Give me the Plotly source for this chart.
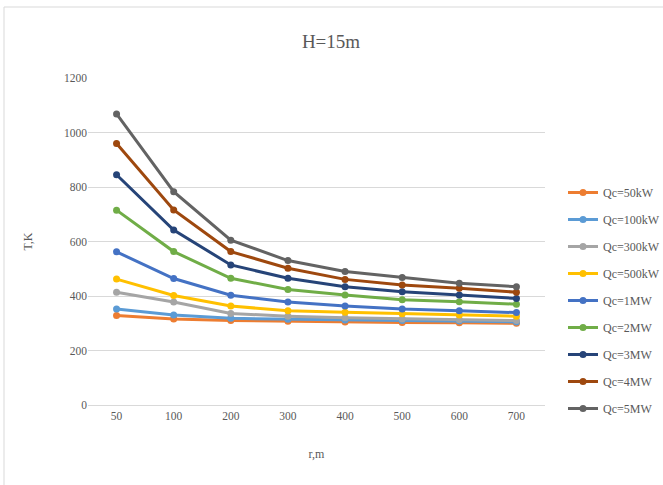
import plotly.graph_objects as go

categories = ["50", "100", "200", "300", "400", "500", "600", "700"]
series_names = ["Qc=50kW", "Qc=100kW", "Qc=300kW", "Qc=500kW", "Qc=1MW",
                "Qc=2MW", "Qc=3MW", "Qc=4MW", "Qc=5MW"]
q50k = [328, 316, 310, 307, 305, 303, 302, 300]
q100k = [352, 330, 318, 315, 312, 310, 308, 305]
q300k = [414, 378, 336, 326, 320, 316, 313, 310]
q500k = [462, 402, 363, 346, 340, 335, 330, 326]
q1m = [562, 464, 403, 378, 363, 352, 346, 339]
q2m = [715, 563, 465, 424, 404, 386, 379, 370]
q3m = [845, 642, 514, 465, 434, 416, 404, 391]
q4m = [960, 716, 563, 502, 461, 440, 428, 414]
q5m = [1068, 783, 605, 530, 490, 468, 447, 434]
series_values = [q50k, q100k, q300k, q500k, q1m, q2m, q3m, q4m, q5m]
colors = ["#ED7D31", "#5B9BD5", "#A5A5A5", "#FFC000", "#4472C4",
          "#70AD47", "#264478", "#9E480E", "#636363"]
y_ticks = [0, 200, 400, 600, 800, 1000, 1200]

fig = go.Figure()
for i, (name, vals) in enumerate(zip(series_names, series_values)):
    fig.add_trace(go.Scatter(
        x=categories, y=vals, name=name, mode="lines+markers",
        line=dict(color=colors[i], width=3),
        marker=dict(color=colors[i], size=7),
        legendgroup=name,
    ))

W, H = 663, 485
ml, mr, mt, mb = 88, 118, 78, 80
pw, ph = W - ml - mr, H - mt - mb

def px_x(p):
    return (p - ml) / pw

def px_y(p):
    return (H - mb - p) / ph

font_family = "Liberation Serif"
fig.update_layout(
    width=W, height=H,
    margin=dict(l=ml, r=mr, t=mt, b=mb, autoexpand=False),
    paper_bgcolor="white", plot_bgcolor="white",
    font=dict(family=font_family, color="#595959", size=11),
    title=dict(text="H=15m", x=331 / W, xanchor="center", xref="container",
               y=1 - 41 / H, yanchor="middle", yref="container",
               font=dict(size=19, color="#595959", family=font_family)),
    xaxis=dict(type="category", range=[-0.5, 7.5], showgrid=False,
               showline=True, linecolor="#D9D9D9", ticks="",
               tickfont=dict(size=11.5), zeroline=False,
               title=dict(text="r,m", font=dict(size=12), standoff=28)),
    yaxis=dict(range=[0, 1200], tickvals=y_ticks, showgrid=True,
               gridcolor="#D9D9D9", gridwidth=1, zeroline=False,
               showline=False, ticks="", ticklen=0,
               tickfont=dict(size=11.5),
               title=dict(text="T,K", font=dict(size=12), standoff=28)),
    legend=dict(x=px_x(563), xanchor="left", y=px_y(178), yanchor="top",
                font=dict(size=12, color="#595959"), tracegroupgap=8,
                bgcolor="rgba(0,0,0,0)"),
    shapes=[dict(type="rect", xref="paper", yref="paper",
                 x0=px_x(4), x1=px_x(700), y0=px_y(520), y1=px_y(7),
                 line=dict(color="#D9D9D9", width=1), fillcolor="rgba(0,0,0,0)",
                 layer="below")],
)

fig.write_html("out.html", config={"displayModeBar": False},
               post_script="document.body.style.margin='0';document.body.style.overflow='hidden';")
